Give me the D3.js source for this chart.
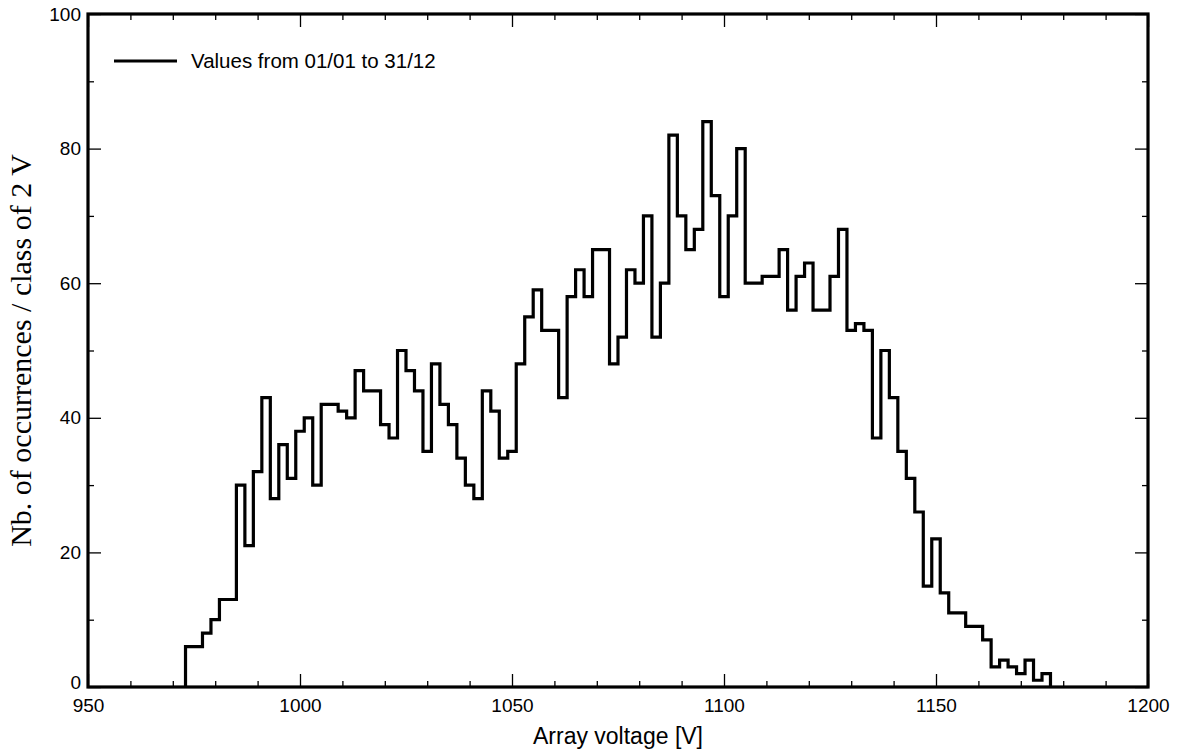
<!DOCTYPE html>
<html>
<head>
<meta charset="utf-8">
<script src="https://cdn.jsdelivr.net/npm/d3@7"></script>
<style>
  html, body { margin: 0; padding: 0; background: #fff; }
  svg { display: block; }
  text { font-family: "Liberation Sans", Arial, sans-serif; fill: #000; }
</style>
</head>
<body>
<svg id="chart" width="1181" height="751"></svg>
<script>
// ---- Data ----
const firstClass = 973;      // lower edge of first class [V]
const classWidth = 2;        // class width [V]
const counts = [
  6, 6, 8, 10, 13, 13, 30, 21, 32, 43,
  28, 36, 31, 38, 40, 30, 42, 42, 41, 40,
  47, 44, 44, 39, 37, 50, 47, 44, 35, 48,
  42, 39, 34, 30, 28, 44, 41, 34, 35, 48,
  55, 59, 53, 53, 43, 58, 62, 58, 65, 65,
  48, 52, 62, 60, 70, 52, 60, 82, 70, 65,
  68, 84, 73, 58, 70, 80, 60, 60, 61, 61,
  65, 56, 61, 63, 56, 56, 61, 68, 53, 54,
  53, 37, 50, 43, 35, 31, 26, 15, 22, 14,
  11, 11, 9, 9, 7, 3, 4, 3, 2, 4,
  1, 2
];
const xTicksMajor = [950, 1000, 1050, 1100, 1150, 1200];
const xTicksMinor = [960, 970, 980, 990, 1010, 1020, 1030, 1040, 1060, 1070, 1080, 1090,
                     1110, 1120, 1130, 1140, 1160, 1170, 1180, 1190];
const yTicksMajor = [0, 20, 40, 60, 80, 100];
const yTicksMinor = [10, 30, 50, 70, 90];
const legendLabel = "Values from 01/01 to 31/12";
const xTitle = "Array voltage [V]";
const yTitle = "Nb. of occurrences / class of 2 V";

// ---- Layout ----
const L = 88, R = 1148, T = 14, B = 687;
const svg = d3.select("#chart");

const x = d3.scaleLinear().domain([950, 1200]).range([L, R]);
const y = d3.scaleLinear().domain([0, 100]).range([B, T]);

// ---- Histogram step path ----
const classes = counts.map((c, i) => ({ v: firstClass + i * classWidth, c }));
const pts = [{ v: firstClass, c: 0 }].concat(classes);
const last = classes[classes.length - 1];
pts.push({ v: last.v + classWidth, c: last.c });
pts.push({ v: last.v + classWidth, c: 0 });

const line = d3.line()
  .x(d => x(d.v))
  .y(d => y(d.c))
  .curve(d3.curveStepAfter);

svg.append("path")
  .datum(pts)
  .attr("d", line)
  .attr("fill", "none")
  .attr("stroke", "#000")
  .attr("stroke-width", 3.2)
  .attr("stroke-linejoin", "miter");

// ---- Axes (inward ticks on all sides) ----
function styleAxis(g) {
  g.select(".domain").remove();
  g.selectAll(".tick line").attr("stroke", "#000").attr("stroke-width", 1.3);
}
const fontFam = "Liberation Sans, Arial, sans-serif";

// bottom
svg.append("g").attr("transform", `translate(0,${B})`)
  .call(d3.axisBottom(x).tickValues(xTicksMajor).tickSizeInner(-13).tickSizeOuter(0)
        .tickPadding(12).tickFormat(d3.format("d")))
  .call(styleAxis)
  .call(g => g.selectAll(".tick text").attr("font-size", 19).attr("font-family", fontFam));
svg.append("g").attr("transform", `translate(0,${B})`)
  .call(d3.axisBottom(x).tickValues(xTicksMinor).tickSizeInner(-6).tickSizeOuter(0).tickFormat(""))
  .call(styleAxis);
// top
svg.append("g").attr("transform", `translate(0,${T})`)
  .call(d3.axisTop(x).tickValues(xTicksMajor).tickSizeInner(-13).tickSizeOuter(0).tickFormat(""))
  .call(styleAxis);
svg.append("g").attr("transform", `translate(0,${T})`)
  .call(d3.axisTop(x).tickValues(xTicksMinor).tickSizeInner(-6).tickSizeOuter(0).tickFormat(""))
  .call(styleAxis);
// left
svg.append("g").attr("transform", `translate(${L},0)`)
  .call(d3.axisLeft(y).tickValues(yTicksMajor).tickSizeInner(-13).tickSizeOuter(0)
        .tickPadding(7).tickFormat(d3.format("d")))
  .call(styleAxis)
  .call(g => g.selectAll(".tick text").attr("font-size", 19).attr("font-family", fontFam))
  .call(g => g.selectAll(".tick text").filter(d => d === 0).attr("dy", "0.1em"));
svg.append("g").attr("transform", `translate(${L},0)`)
  .call(d3.axisLeft(y).tickValues(yTicksMinor).tickSizeInner(-6).tickSizeOuter(0).tickFormat(""))
  .call(styleAxis);
// right
svg.append("g").attr("transform", `translate(${R},0)`)
  .call(d3.axisRight(y).tickValues(yTicksMajor).tickSizeInner(-13).tickSizeOuter(0).tickFormat(""))
  .call(styleAxis);
svg.append("g").attr("transform", `translate(${R},0)`)
  .call(d3.axisRight(y).tickValues(yTicksMinor).tickSizeInner(-6).tickSizeOuter(0).tickFormat(""))
  .call(styleAxis);

// frame
svg.append("rect")
  .attr("x", L).attr("y", T)
  .attr("width", R - L).attr("height", B - T)
  .attr("fill", "none").attr("stroke", "#000").attr("stroke-width", 3.2);

// ---- Legend ----
svg.append("line")
  .attr("x1", 114).attr("x2", 177).attr("y1", 61).attr("y2", 61)
  .attr("stroke", "#000").attr("stroke-width", 3.2);
svg.append("text")
  .attr("x", 191).attr("y", 68)
  .attr("font-size", 20.5)
  .text(legendLabel);

// ---- Axis titles ----
svg.append("text")
  .attr("x", (L + R) / 2).attr("y", 744)
  .attr("text-anchor", "middle")
  .attr("font-size", 23)
  .text(xTitle);

svg.append("text")
  .attr("transform", `translate(31,${(T + B) / 2}) rotate(-90)`)
  .attr("text-anchor", "middle")
  .style("font-family", "'Liberation Serif', 'Times New Roman', serif")
  .attr("font-size", 30)
  .text(yTitle);
</script>
</body>
</html>
